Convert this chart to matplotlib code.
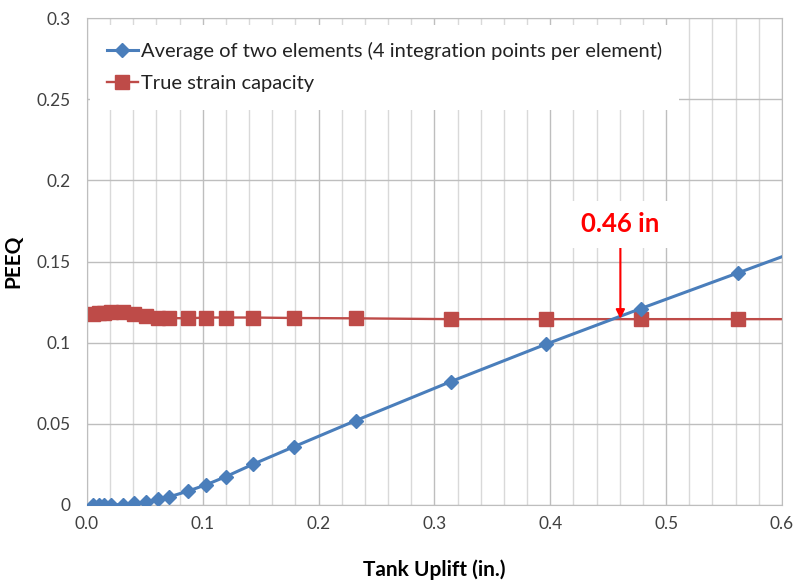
import numpy as np
import matplotlib.pyplot as plt
from matplotlib.ticker import MultipleLocator, FormatStrFormatter

plt.rcParams['font.family'] = ['Lato', 'DejaVu Sans']

# Tank uplift (in.) for each analysis step; the last step lies beyond the axis
uplift = [0.005, 0.010, 0.015, 0.021, 0.031, 0.041, 0.051, 0.061, 0.071, 0.087,
          0.103, 0.120, 0.143, 0.179, 0.232, 0.314, 0.396, 0.478, 0.562, 0.646]
# PEEQ averaged over two elements
peeq_avg = [0.0, 0.0, 0.0, 0.0, 0.0003, 0.001, 0.002, 0.0035, 0.005, 0.0085,
            0.0125, 0.0175, 0.025, 0.036, 0.052, 0.076, 0.099, 0.121, 0.143, 0.165]
# true strain capacity
capacity = [0.1175, 0.118, 0.1185, 0.119, 0.119, 0.1175, 0.1165, 0.1155, 0.1152, 0.115,
            0.1155, 0.1155, 0.1155, 0.1152, 0.115, 0.1145, 0.1145, 0.1145, 0.1145, 0.1145]

label_avg = "Average of two elements (4 integration points per element)"
label_cap = "True strain capacity"
cross_x = 0.4605
cross_y = 0.1148

blue = '#4A7EBB'
red = '#BE4B48'

fig = plt.figure(figsize=(7.95, 5.83), dpi=100)
ax = fig.add_axes([0.1094, 0.1338, 0.8742, 0.8352])

ax.plot(uplift, peeq_avg, color=blue, lw=2.2, marker='D', ms=6.8,
        label=label_avg, zorder=3)
ax.plot(uplift, capacity, color=red, lw=1.7, marker='s', ms=10,
        label=label_cap, zorder=2)

ax.set_xlim(0, 0.6)
ax.set_ylim(0, 0.3)
ax.xaxis.set_major_locator(MultipleLocator(0.1))
ax.xaxis.set_minor_locator(MultipleLocator(0.02))
ax.xaxis.set_major_formatter(FormatStrFormatter('%.1f'))
ax.set_yticks([0, 0.05, 0.1, 0.15, 0.2, 0.25, 0.3])
ax.set_yticklabels(['0', '0.05', '0.1', '0.15', '0.2', '0.25', '0.3'])

ax.grid(which='major', color='#BEBEBE', lw=1.0)
ax.grid(which='minor', axis='x', color='#D9D9D9', lw=1.0)
ax.set_axisbelow(True)
for s in ax.spines.values():
    s.set_color('#BEBEBE')
ax.tick_params(which='both', length=0, labelsize=12.4, colors='#404040')
ax.tick_params(axis='x', pad=8)
ax.tick_params(axis='y', pad=12)

ax.set_xlabel("Tank Uplift (in.)", fontsize=15, fontweight='bold', labelpad=20)
ax.set_ylabel("PEEQ", fontsize=15, fontweight='bold', labelpad=9)

leg = ax.legend(loc='upper left', bbox_to_anchor=(0.004, 0.9856), fontsize=14.5,
                frameon=True, fancybox=False, edgecolor='none', facecolor='white',
                framealpha=1, handlelength=1.55, handletextpad=0.15,
                labelspacing=0.75, borderpad=0.85, borderaxespad=0)
for t in leg.get_texts():
    t.set_color('#222222')

ax.annotate("0.46 in", xy=(cross_x, cross_y), xytext=(cross_x, 0.173),
            ha='center', va='center', fontsize=18.5, fontweight='bold', color='#FF0000',
            bbox=dict(boxstyle='square,pad=0.45', fc='white', ec='none'),
            arrowprops=dict(arrowstyle='-|>', color='#FF0000', lw=1.5,
                            mutation_scale=13, shrinkA=0, shrinkB=0))

fig.savefig("out.png", dpi=100)
